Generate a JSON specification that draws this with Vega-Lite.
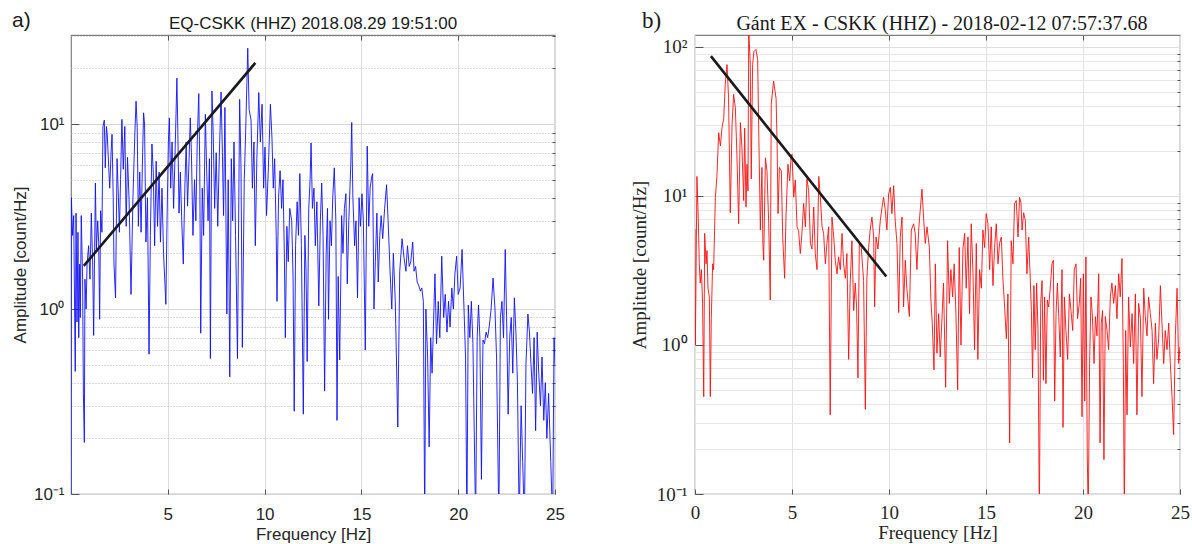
{
"$schema": "https://vega.github.io/schema/vega-lite/v6.json",
"padding": {"left": 10, "top": 9, "right": 0, "bottom": 0},
"bounds": "flush",
"spacing": 140,
"config": {"view": {"stroke": "#808080", "strokeWidth": 1.2}, "axis": {"labelFlush": false, "domain": false}},
"datasets": {
"eq": [{"f":0.0,"a":0.07},{"f":0.02,"a":4.0},{"f":0.08,"a":2.5},{"f":0.14,"a":3.2},{"f":0.19,"a":0.9},{"f":0.22,"a":0.46},{"f":0.26,"a":3.3},{"f":0.31,"a":0.85},{"f":0.36,"a":2.6},{"f":0.4,"a":0.7},{"f":0.45,"a":1.75},{"f":0.48,"a":0.9},{"f":0.53,"a":3.2},{"f":0.6,"a":1.45},{"f":0.64,"a":0.35},{"f":0.69,"a":0.19},{"f":0.72,"a":1.45},{"f":0.78,"a":1.0},{"f":0.83,"a":1.75},{"f":0.91,"a":2.2},{"f":0.98,"a":1.45},{"f":1.05,"a":3.3},{"f":1.12,"a":1.75},{"f":1.17,"a":0.72},{"f":1.26,"a":4.8},{"f":1.31,"a":2.1},{"f":1.38,"a":3.0},{"f":1.43,"a":2.3},{"f":1.48,"a":0.88},{"f":1.53,"a":3.4},{"f":1.6,"a":2.6},{"f":1.65,"a":9.7},{"f":1.72,"a":10.5},{"f":1.77,"a":5.8},{"f":1.83,"a":9.7},{"f":1.88,"a":8.5},{"f":1.95,"a":5.8},{"f":2.0,"a":4.5},{"f":2.07,"a":7.0},{"f":2.12,"a":8.8},{"f":2.18,"a":4.0},{"f":2.22,"a":1.75},{"f":2.3,"a":1.15},{"f":2.38,"a":6.5},{"f":2.45,"a":4.0},{"f":2.5,"a":2.6},{"f":2.56,"a":5.0},{"f":2.63,"a":10.6},{"f":2.7,"a":5.7},{"f":2.78,"a":9.7},{"f":2.85,"a":2.8},{"f":2.92,"a":6.6},{"f":3.0,"a":3.9},{"f":3.1,"a":1.2},{"f":3.2,"a":4.0},{"f":3.3,"a":9.0},{"f":3.36,"a":13.3},{"f":3.42,"a":9.6},{"f":3.48,"a":2.8},{"f":3.55,"a":5.5},{"f":3.62,"a":2.6},{"f":3.7,"a":7.0},{"f":3.75,"a":11.5},{"f":3.8,"a":10.0},{"f":3.87,"a":2.3},{"f":3.95,"a":4.0},{"f":4.03,"a":0.57},{"f":4.1,"a":2.5},{"f":4.18,"a":7.8},{"f":4.25,"a":5.5},{"f":4.32,"a":2.2},{"f":4.4,"a":6.3},{"f":4.47,"a":2.8},{"f":4.55,"a":5.5},{"f":4.62,"a":2.3},{"f":4.7,"a":4.5},{"f":4.78,"a":2.0},{"f":4.9,"a":1.06},{"f":4.96,"a":3.0},{"f":5.03,"a":8.0},{"f":5.08,"a":10.8},{"f":5.15,"a":4.5},{"f":5.22,"a":8.0},{"f":5.3,"a":3.5},{"f":5.36,"a":6.0},{"f":5.47,"a":17.7},{"f":5.52,"a":9.0},{"f":5.58,"a":3.3},{"f":5.65,"a":5.5},{"f":5.72,"a":3.0},{"f":5.8,"a":1.75},{"f":5.88,"a":4.5},{"f":5.95,"a":8.0},{"f":6.02,"a":3.6},{"f":6.1,"a":6.5},{"f":6.16,"a":10.8},{"f":6.22,"a":7.0},{"f":6.3,"a":2.5},{"f":6.38,"a":5.0},{"f":6.45,"a":3.0},{"f":6.52,"a":8.0},{"f":6.6,"a":14.6},{"f":6.65,"a":6.0},{"f":6.7,"a":0.74},{"f":6.78,"a":4.5},{"f":6.85,"a":2.5},{"f":6.94,"a":11.3},{"f":7.0,"a":6.0},{"f":7.08,"a":3.0},{"f":7.15,"a":6.5},{"f":7.2,"a":0.54},{"f":7.28,"a":15.1},{"f":7.35,"a":8.5},{"f":7.42,"a":3.5},{"f":7.5,"a":7.0},{"f":7.58,"a":2.8},{"f":7.65,"a":6.0},{"f":7.75,"a":14.9},{"f":7.82,"a":7.0},{"f":7.88,"a":3.2},{"f":7.95,"a":12.3},{"f":8.05,"a":0.94},{"f":8.12,"a":5.0},{"f":8.2,"a":0.43},{"f":8.28,"a":6.5},{"f":8.35,"a":3.0},{"f":8.42,"a":8.0},{"f":8.5,"a":2.5},{"f":8.6,"a":0.54},{"f":8.71,"a":13.6},{"f":8.78,"a":6.0},{"f":8.85,"a":0.62},{"f":8.95,"a":5.0},{"f":9.02,"a":9.0},{"f":9.13,"a":25.7},{"f":9.2,"a":12.0},{"f":9.3,"a":10.5},{"f":9.37,"a":4.5},{"f":9.45,"a":8.0},{"f":9.52,"a":2.2},{"f":9.6,"a":6.5},{"f":9.7,"a":14.8},{"f":9.78,"a":8.0},{"f":9.87,"a":12.8},{"f":9.95,"a":4.5},{"f":10.02,"a":7.5},{"f":10.1,"a":3.2},{"f":10.2,"a":6.0},{"f":10.3,"a":12.8},{"f":10.38,"a":8.4},{"f":10.45,"a":4.5},{"f":10.52,"a":6.5},{"f":10.6,"a":2.5},{"f":10.64,"a":1.1},{"f":10.72,"a":4.0},{"f":10.8,"a":5.6},{"f":10.88,"a":3.5},{"f":10.95,"a":5.0},{"f":11.02,"a":2.0},{"f":11.07,"a":0.7},{"f":11.15,"a":2.8},{"f":11.22,"a":1.8},{"f":11.3,"a":3.5},{"f":11.4,"a":3.0},{"f":11.47,"a":1.5},{"f":11.53,"a":0.28},{"f":11.6,"a":2.2},{"f":11.68,"a":3.8},{"f":11.75,"a":2.5},{"f":11.82,"a":5.4},{"f":11.9,"a":2.2},{"f":12.0,"a":0.27},{"f":12.08,"a":2.5},{"f":12.14,"a":1.6},{"f":12.2,"a":0.52},{"f":12.28,"a":3.5},{"f":12.35,"a":5.0},{"f":12.4,"a":7.9},{"f":12.47,"a":3.5},{"f":12.55,"a":4.5},{"f":12.62,"a":2.2},{"f":12.7,"a":3.8},{"f":12.8,"a":1.04},{"f":12.88,"a":3.0},{"f":12.95,"a":4.8},{"f":13.02,"a":2.5},{"f":13.1,"a":0.36},{"f":13.18,"a":2.0},{"f":13.25,"a":3.5},{"f":13.3,"a":0.88},{"f":13.38,"a":3.0},{"f":13.45,"a":2.2},{"f":13.52,"a":4.0},{"f":13.6,"a":5.8},{"f":13.68,"a":3.0},{"f":13.74,"a":0.25},{"f":13.8,"a":1.5},{"f":13.88,"a":0.53},{"f":13.98,"a":3.2},{"f":14.05,"a":2.0},{"f":14.12,"a":3.5},{"f":14.2,"a":4.2},{"f":14.27,"a":1.37},{"f":14.35,"a":3.0},{"f":14.45,"a":6.0},{"f":14.5,"a":10.2},{"f":14.56,"a":4.0},{"f":14.65,"a":2.2},{"f":14.72,"a":3.0},{"f":14.8,"a":1.15},{"f":14.88,"a":4.0},{"f":14.95,"a":2.8},{"f":15.03,"a":4.2},{"f":15.1,"a":3.0},{"f":15.2,"a":0.6},{"f":15.3,"a":7.6},{"f":15.38,"a":2.8},{"f":15.45,"a":4.5},{"f":15.52,"a":5.1},{"f":15.58,"a":5.4},{"f":15.65,"a":1.0},{"f":15.72,"a":1.8},{"f":15.8,"a":3.3},{"f":15.87,"a":1.4},{"f":15.95,"a":2.5},{"f":16.02,"a":3.2},{"f":16.1,"a":2.4},{"f":16.2,"a":3.5},{"f":16.3,"a":4.7},{"f":16.38,"a":3.0},{"f":16.48,"a":1.6},{"f":16.57,"a":1.0},{"f":16.65,"a":2.0},{"f":16.75,"a":1.1},{"f":16.88,"a":0.23},{"f":16.98,"a":1.6},{"f":17.1,"a":2.4},{"f":17.2,"a":1.9},{"f":17.3,"a":1.6},{"f":17.38,"a":2.2},{"f":17.47,"a":1.7},{"f":17.55,"a":1.8},{"f":17.65,"a":2.3},{"f":17.72,"a":1.6},{"f":17.8,"a":1.7},{"f":17.88,"a":1.4},{"f":17.95,"a":1.35},{"f":18.05,"a":1.25},{"f":18.12,"a":1.3},{"f":18.2,"a":1.1},{"f":18.27,"a":0.07},{"f":18.33,"a":1.0},{"f":18.42,"a":0.55},{"f":18.5,"a":0.18},{"f":18.58,"a":0.7},{"f":18.65,"a":0.45},{"f":18.8,"a":1.55},{"f":18.88,"a":0.65},{"f":18.97,"a":1.1},{"f":19.05,"a":0.7},{"f":19.15,"a":1.93},{"f":19.25,"a":0.9},{"f":19.33,"a":1.2},{"f":19.42,"a":0.75},{"f":19.5,"a":1.1},{"f":19.58,"a":0.8},{"f":19.67,"a":1.3},{"f":19.75,"a":1.0},{"f":19.83,"a":1.55},{"f":19.92,"a":1.93},{"f":20.0,"a":1.2},{"f":20.1,"a":1.3},{"f":20.2,"a":2.1},{"f":20.3,"a":1.0},{"f":20.38,"a":0.55},{"f":20.45,"a":0.07},{"f":20.52,"a":1.05},{"f":20.6,"a":0.7},{"f":20.68,"a":1.1},{"f":20.76,"a":0.65},{"f":20.9,"a":0.07},{"f":20.98,"a":0.7},{"f":21.05,"a":1.05},{"f":21.12,"a":0.7},{"f":21.2,"a":0.12},{"f":21.28,"a":0.68},{"f":21.36,"a":0.65},{"f":21.44,"a":0.75},{"f":21.52,"a":0.7},{"f":21.6,"a":0.8},{"f":21.7,"a":1.0},{"f":21.8,"a":1.47},{"f":21.9,"a":1.0},{"f":21.98,"a":0.55},{"f":22.1,"a":0.07},{"f":22.18,"a":0.9},{"f":22.26,"a":1.1},{"f":22.34,"a":0.7},{"f":22.43,"a":2.1},{"f":22.5,"a":0.9},{"f":22.58,"a":0.27},{"f":22.66,"a":0.7},{"f":22.74,"a":0.9},{"f":22.82,"a":0.45},{"f":22.9,"a":1.15},{"f":22.98,"a":0.75},{"f":23.06,"a":0.4},{"f":23.15,"a":0.07},{"f":23.25,"a":0.3},{"f":23.33,"a":0.15},{"f":23.42,"a":0.07},{"f":23.5,"a":0.5},{"f":23.6,"a":0.94},{"f":23.68,"a":0.75},{"f":23.76,"a":0.5},{"f":23.84,"a":0.35},{"f":23.92,"a":0.7},{"f":24.0,"a":0.22},{"f":24.08,"a":0.75},{"f":24.16,"a":0.45},{"f":24.25,"a":0.3},{"f":24.33,"a":0.55},{"f":24.42,"a":0.25},{"f":24.5,"a":0.4},{"f":24.58,"a":0.2},{"f":24.67,"a":0.35},{"f":24.78,"a":0.15},{"f":24.88,"a":0.07},{"f":24.95,"a":0.7},{"f":25.0,"a":0.5}],
"ex": [{"f":0.0,"a":6.0},{"f":0.02,"a":1.0},{"f":0.1,"a":13.5},{"f":0.15,"a":8.4},{"f":0.19,"a":5.4},{"f":0.22,"a":3.5},{"f":0.27,"a":2.6},{"f":0.33,"a":3.2},{"f":0.39,"a":1.9},{"f":0.45,"a":0.45},{"f":0.5,"a":5.6},{"f":0.57,"a":3.5},{"f":0.62,"a":4.3},{"f":0.67,"a":2.4},{"f":0.74,"a":2.1},{"f":0.79,"a":0.45},{"f":0.84,"a":1.5},{"f":0.91,"a":3.5},{"f":0.96,"a":3.2},{"f":1.05,"a":9.8},{"f":1.13,"a":13.5},{"f":1.22,"a":26.5},{"f":1.31,"a":21.6},{"f":1.39,"a":28.5},{"f":1.48,"a":33},{"f":1.56,"a":56},{"f":1.65,"a":76},{"f":1.73,"a":45.6},{"f":1.82,"a":7.7},{"f":1.91,"a":30},{"f":1.99,"a":48},{"f":2.08,"a":39},{"f":2.16,"a":19},{"f":2.25,"a":6.5},{"f":2.34,"a":31},{"f":2.42,"a":21},{"f":2.51,"a":9.3},{"f":2.56,"a":28.5},{"f":2.63,"a":8.4},{"f":2.68,"a":16.3},{"f":2.73,"a":10.8},{"f":2.77,"a":130},{"f":2.85,"a":76},{"f":2.9,"a":13},{"f":2.97,"a":76},{"f":3.04,"a":93},{"f":3.14,"a":96},{"f":3.23,"a":82},{"f":3.28,"a":30},{"f":3.37,"a":5.9},{"f":3.45,"a":15.5},{"f":3.5,"a":4.8},{"f":3.54,"a":3.7},{"f":3.63,"a":18},{"f":3.71,"a":14.7},{"f":3.8,"a":6.5},{"f":3.88,"a":2.0},{"f":3.93,"a":41},{"f":4.05,"a":59},{"f":4.18,"a":45},{"f":4.23,"a":23.3},{"f":4.28,"a":7.6},{"f":4.35,"a":15.5},{"f":4.45,"a":14.7},{"f":4.52,"a":5.3},{"f":4.62,"a":2.8},{"f":4.69,"a":7.2},{"f":4.79,"a":16.3},{"f":4.88,"a":12.6},{"f":4.95,"a":18},{"f":5.0,"a":19},{"f":5.09,"a":9.8},{"f":5.17,"a":12.8},{"f":5.26,"a":6.2},{"f":5.34,"a":5.8},{"f":5.43,"a":4.1},{"f":5.51,"a":5.6},{"f":5.6,"a":8.9},{"f":5.69,"a":6.2},{"f":5.77,"a":13},{"f":5.86,"a":10.8},{"f":5.95,"a":4.8},{"f":6.03,"a":4.4},{"f":6.12,"a":8.4},{"f":6.2,"a":4.1},{"f":6.29,"a":3.2},{"f":6.38,"a":13.5},{"f":6.46,"a":9.8},{"f":6.55,"a":6.2},{"f":6.63,"a":5.6},{"f":6.72,"a":3.5},{"f":6.8,"a":4.8},{"f":6.89,"a":6.2},{"f":6.97,"a":0.34},{"f":7.06,"a":7.2},{"f":7.15,"a":5.3},{"f":7.23,"a":3.7},{"f":7.32,"a":3.0},{"f":7.4,"a":3.9},{"f":7.49,"a":3.2},{"f":7.58,"a":5.6},{"f":7.66,"a":3.5},{"f":7.75,"a":2.8},{"f":7.83,"a":4.1},{"f":7.92,"a":0.8},{"f":8.0,"a":2.6},{"f":8.09,"a":5.0},{"f":8.18,"a":1.7},{"f":8.26,"a":2.6},{"f":8.33,"a":1.8},{"f":8.4,"a":0.6},{"f":8.47,"a":4.8},{"f":8.57,"a":4.5},{"f":8.69,"a":2.7},{"f":8.78,"a":0.37},{"f":8.86,"a":2.8},{"f":8.95,"a":4.5},{"f":9.03,"a":5.9},{"f":9.12,"a":7.2},{"f":9.21,"a":5.3},{"f":9.26,"a":1.8},{"f":9.33,"a":5.3},{"f":9.43,"a":4.4},{"f":9.55,"a":6.8},{"f":9.64,"a":8.4},{"f":9.72,"a":9.8},{"f":9.81,"a":8.0},{"f":9.89,"a":5.9},{"f":9.98,"a":10.3},{"f":10.07,"a":11.4},{"f":10.15,"a":7.6},{"f":10.24,"a":11.7},{"f":10.32,"a":6.8},{"f":10.41,"a":4.8},{"f":10.5,"a":1.65},{"f":10.58,"a":5.3},{"f":10.67,"a":7.2},{"f":10.75,"a":1.8},{"f":10.84,"a":3.7},{"f":10.92,"a":2.4},{"f":11.05,"a":1.55},{"f":11.15,"a":5.9},{"f":11.27,"a":6.5},{"f":11.35,"a":5.6},{"f":11.44,"a":3.2},{"f":11.53,"a":5.9},{"f":11.61,"a":8.0},{"f":11.7,"a":11.1},{"f":11.78,"a":7.2},{"f":11.87,"a":4.8},{"f":11.96,"a":6.2},{"f":12.08,"a":4.5},{"f":12.16,"a":2.0},{"f":12.23,"a":1.4},{"f":12.32,"a":0.68},{"f":12.39,"a":3.5},{"f":12.47,"a":0.88},{"f":12.56,"a":1.62},{"f":12.64,"a":0.83},{"f":12.73,"a":1.5},{"f":12.81,"a":2.6},{"f":12.92,"a":0.52},{"f":13.02,"a":5.0},{"f":13.11,"a":1.9},{"f":13.19,"a":3.2},{"f":13.28,"a":2.1},{"f":13.36,"a":3.5},{"f":13.45,"a":1.62},{"f":13.54,"a":0.5},{"f":13.62,"a":4.5},{"f":13.71,"a":1.0},{"f":13.81,"a":4.4},{"f":13.9,"a":5.6},{"f":13.98,"a":2.4},{"f":14.07,"a":5.3},{"f":14.15,"a":1.62},{"f":14.24,"a":6.5},{"f":14.33,"a":3.0},{"f":14.41,"a":0.93},{"f":14.5,"a":4.8},{"f":14.58,"a":0.8},{"f":14.67,"a":3.2},{"f":14.76,"a":2.4},{"f":14.84,"a":5.9},{"f":14.93,"a":4.5},{"f":15.01,"a":7.6},{"f":15.1,"a":6.5},{"f":15.19,"a":3.2},{"f":15.27,"a":6.2},{"f":15.36,"a":2.5},{"f":15.44,"a":4.5},{"f":15.53,"a":6.5},{"f":15.62,"a":3.5},{"f":15.7,"a":4.8},{"f":15.79,"a":5.3},{"f":15.87,"a":2.8},{"f":15.96,"a":1.8},{"f":16.05,"a":1.1},{"f":16.13,"a":2.2},{"f":16.22,"a":0.22},{"f":16.3,"a":5.0},{"f":16.39,"a":3.5},{"f":16.47,"a":8.9},{"f":16.56,"a":9.3},{"f":16.65,"a":5.3},{"f":16.73,"a":9.8},{"f":16.8,"a":9.0},{"f":16.86,"a":5.9},{"f":16.94,"a":7.7},{"f":17.03,"a":6.8},{"f":17.11,"a":3.0},{"f":17.2,"a":5.3},{"f":17.28,"a":2.8},{"f":17.34,"a":1.7},{"f":17.4,"a":0.6},{"f":17.47,"a":2.5},{"f":17.54,"a":0.93},{"f":17.61,"a":2.6},{"f":17.68,"a":1.25},{"f":17.75,"a":0.07},{"f":17.82,"a":1.9},{"f":17.89,"a":2.7},{"f":17.96,"a":0.58},{"f":18.02,"a":2.1},{"f":18.09,"a":0.55},{"f":18.16,"a":2.0},{"f":18.23,"a":1.8},{"f":18.32,"a":2.5},{"f":18.4,"a":3.5},{"f":18.47,"a":3.7},{"f":18.54,"a":0.42},{"f":18.61,"a":1.62},{"f":18.68,"a":2.6},{"f":18.75,"a":1.55},{"f":18.83,"a":0.83},{"f":18.92,"a":3.2},{"f":18.97,"a":0.28},{"f":19.04,"a":2.1},{"f":19.12,"a":1.25},{"f":19.21,"a":0.8},{"f":19.3,"a":2.2},{"f":19.38,"a":1.7},{"f":19.47,"a":1.25},{"f":19.55,"a":3.2},{"f":19.64,"a":3.5},{"f":19.72,"a":1.5},{"f":19.81,"a":1.9},{"f":19.88,"a":2.8},{"f":19.95,"a":0.33},{"f":20.02,"a":3.0},{"f":20.09,"a":0.42},{"f":20.15,"a":3.9},{"f":20.22,"a":0.18},{"f":20.27,"a":0.07},{"f":20.34,"a":0.75},{"f":20.41,"a":2.1},{"f":20.48,"a":1.62},{"f":20.57,"a":0.75},{"f":20.64,"a":1.55},{"f":20.72,"a":1.15},{"f":20.81,"a":3.0},{"f":20.88,"a":0.22},{"f":20.94,"a":1.4},{"f":21.01,"a":1.7},{"f":21.08,"a":0.17},{"f":21.15,"a":1.55},{"f":21.24,"a":1.25},{"f":21.32,"a":0.93},{"f":21.41,"a":2.1},{"f":21.49,"a":2.6},{"f":21.58,"a":1.9},{"f":21.67,"a":2.5},{"f":21.75,"a":1.5},{"f":21.84,"a":3.0},{"f":21.92,"a":2.1},{"f":22.01,"a":3.8},{"f":22.08,"a":0.75},{"f":22.13,"a":0.07},{"f":22.2,"a":1.25},{"f":22.27,"a":0.34},{"f":22.35,"a":2.1},{"f":22.44,"a":0.97},{"f":22.53,"a":1.62},{"f":22.61,"a":0.75},{"f":22.7,"a":2.2},{"f":22.78,"a":0.34},{"f":22.87,"a":1.9},{"f":22.96,"a":1.5},{"f":23.04,"a":0.45},{"f":23.13,"a":2.4},{"f":23.21,"a":1.55},{"f":23.3,"a":1.15},{"f":23.38,"a":2.1},{"f":23.47,"a":1.62},{"f":23.56,"a":1.25},{"f":23.64,"a":0.55},{"f":23.73,"a":1.4},{"f":23.81,"a":0.8},{"f":23.9,"a":1.1},{"f":23.99,"a":2.5},{"f":24.07,"a":1.4},{"f":24.16,"a":0.75},{"f":24.24,"a":1.25},{"f":24.33,"a":0.93},{"f":24.42,"a":1.4},{"f":24.5,"a":0.75},{"f":24.59,"a":0.45},{"f":24.67,"a":0.25},{"f":24.76,"a":1.15},{"f":24.85,"a":2.4},{"f":24.93,"a":0.75},{"f":25.0,"a":0.97}],
"fitA": [{"f":0.66,"a":1.71},{"f":9.52,"a":21.4}],
"fitB": [{"f":0.82,"a":86.6},{"f":9.86,"a":2.88}]
},
"hconcat": [
{
"width": 484, "height": 459,
"layer": [
{"data": {"name": "eq"}, "mark": {"type": "line", "color": "#1010ff", "strokeWidth": 0.9, "clip": true},
"encoding": {
"x": {"field": "f", "type": "quantitative", "scale": {"domain": [0, 25], "nice": false, "zero": false},
"axis": {"orient": "bottom", "values": [5, 10, 15, 20, 25], "grid": true, "gridColor": "#dcdcdc", "ticks": true, "tickSize": -5, "tickColor": "#555555", "labelFont": "Liberation Sans", "labelFontSize": 17, "labelColor": "#262626", "labelPadding": 17, "title": "Frequency [Hz]", "titleFont": "Liberation Sans", "titleFontSize": 17, "titleFontWeight": "normal", "titleColor": "#262626", "titlePadding": 4}},
"y": {"field": "a", "type": "quantitative", "scale": {"type": "log", "domain": [0.1, 30.3], "nice": false},
"axis": {"orient": "left", "values": [0.1, 1, 10], "grid": true, "gridColor": "#d6d6d6", "ticks": true, "tickSize": -8, "tickColor": "#555555", "labelExpr": "datum.value < 0.5 ? '10⁻¹' : datum.value < 5 ? '10⁰' : '10¹'", "labelFont": "Liberation Sans", "labelFontSize": 17, "labelColor": "#262626", "labelPadding": 15, "title": "Amplitude [count/Hz]", "titleFont": "Liberation Sans", "titleFontSize": 17, "titleFontWeight": "normal", "titleColor": "#262626", "titlePadding": 4}}
}},
{"data": {"name": "fitA"}, "mark": {"type": "line", "color": "#1a1a1a", "strokeWidth": 2.6, "clip": true},
"encoding": {
"x": {"field": "f", "type": "quantitative", "scale": {"domain": [0, 25], "nice": false, "zero": false},
"axis": {"orient": "top", "values": [5, 10, 15, 20], "grid": false, "labels": false, "ticks": true, "tickSize": -5, "tickColor": "#555555", "title": null}},
"y": {"field": "a", "type": "quantitative", "scale": {"type": "log", "domain": [0.1, 30.3], "nice": false},
"axis": {"orient": "right", "values": [0.2, 0.3, 0.4, 0.5, 0.6, 0.7, 0.8, 0.9, 2, 3, 4, 5, 6, 7, 8, 9, 20, 30], "grid": true, "gridColor": "#b4b4b4", "gridDash": [1, 2], "labels": false, "ticks": true, "tickSize": -3, "tickColor": "#555555", "title": null}}
}},
{"data": {"values": [{"t": "a)"}]}, "mark": {"type": "text", "font": "Liberation Sans", "fontSize": 21, "align": "left", "baseline": "alphabetic", "color": "#1a1a1a"},
"encoding": {
"text": {"field": "t"},
"x": {"datum": -3.05, "type": "quantitative", "scale": {"domain": [0, 25], "nice": false, "zero": false}, "axis": null},
"y": {"datum": 33.4, "type": "quantitative", "scale": {"type": "log", "domain": [0.1, 30.3], "nice": false}, "axis": null}
}},
{"data": {"values": [{"t": "EQ-CSKK (HHZ) 2018.08.29 19:51:00"}]}, "mark": {"type": "text", "font": "Liberation Sans", "fontSize": 17, "align": "center", "baseline": "alphabetic", "color": "#1a1a1a"},
"encoding": {
"text": {"field": "t"},
"x": {"datum": 12.5, "type": "quantitative", "scale": {"domain": [0, 25], "nice": false, "zero": false}, "axis": null},
"y": {"datum": 32.6, "type": "quantitative", "scale": {"type": "log", "domain": [0.1, 30.3], "nice": false}, "axis": null}
}}
],
"resolve": {"axis": {"x": "independent", "y": "independent"}}
},
{
"width": 485, "height": 459,
"layer": [
{"data": {"name": "ex"}, "mark": {"type": "line", "color": "#ff1010", "strokeWidth": 0.9, "clip": true},
"encoding": {
"x": {"field": "f", "type": "quantitative", "scale": {"domain": [0, 25], "nice": false, "zero": false},
"axis": {"orient": "bottom", "values": [0, 5, 10, 15, 20, 25], "grid": true, "gridColor": "#e2e2e2", "ticks": true, "tickSize": -5, "tickColor": "#555555", "labelFont": "Liberation Serif", "labelFontSize": 19, "labelColor": "#262626", "labelPadding": 14, "title": "Frequency [Hz]", "titleFont": "Liberation Serif", "titleFontSize": 19, "titleFontWeight": "normal", "titleColor": "#262626", "titlePadding": 1}},
"y": {"field": "a", "type": "quantitative", "scale": {"type": "log", "domain": [0.1, 120], "nice": false},
"axis": {"orient": "left", "values": [0.1, 1, 10, 100], "grid": true, "gridColor": "#dedede", "ticks": true, "tickSize": -8, "tickColor": "#555555", "labelExpr": "datum.value < 0.5 ? '10⁻¹' : datum.value < 5 ? '10⁰' : datum.value < 50 ? '10¹' : '10²'", "labelFont": "Liberation Serif", "labelFontSize": 19, "labelColor": "#262626", "labelPadding": 16, "title": "Amplitude [count/Hz]", "titleFont": "Liberation Serif", "titleFontSize": 19, "titleFontWeight": "normal", "titleColor": "#262626", "titlePadding": 7}}
}},
{"data": {"name": "fitB"}, "mark": {"type": "line", "color": "#1a1a1a", "strokeWidth": 2.6, "clip": true},
"encoding": {
"x": {"field": "f", "type": "quantitative", "scale": {"domain": [0, 25], "nice": false, "zero": false},
"axis": {"orient": "top", "values": [5, 10, 15, 20], "grid": false, "labels": false, "ticks": true, "tickSize": -5, "tickColor": "#555555", "title": null}},
"y": {"field": "a", "type": "quantitative", "scale": {"type": "log", "domain": [0.1, 120], "nice": false},
"axis": {"orient": "right", "values": [0.2, 0.3, 0.4, 0.5, 0.6, 0.7, 0.8, 0.9, 2, 3, 4, 5, 6, 7, 8, 9, 20, 30, 40, 50, 60, 70, 80, 90], "grid": true, "gridColor": "#e6e6e6", "labels": false, "ticks": true, "tickSize": -3, "tickColor": "#555555", "title": null}}
}},
{"data": {"values": [{"t": "b)"}]}, "mark": {"type": "text", "font": "Liberation Serif", "fontSize": 23, "align": "left", "baseline": "alphabetic", "color": "#1a1a1a"},
"encoding": {
"text": {"field": "t"},
"x": {"datum": -2.73, "type": "quantitative", "scale": {"domain": [0, 25], "nice": false, "zero": false}, "axis": null},
"y": {"datum": 133, "type": "quantitative", "scale": {"type": "log", "domain": [0.1, 120], "nice": false}, "axis": null}
}},
{"data": {"values": [{"t": "Gánt EX - CSKK (HHZ) - 2018-02-12 07:57:37.68"}]}, "mark": {"type": "text", "font": "Liberation Serif", "fontSize": 20, "align": "center", "baseline": "alphabetic", "color": "#1a1a1a"},
"encoding": {
"text": {"field": "t"},
"x": {"datum": 12.73, "type": "quantitative", "scale": {"domain": [0, 25], "nice": false, "zero": false}, "axis": null},
"y": {"datum": 129, "type": "quantitative", "scale": {"type": "log", "domain": [0.1, 120], "nice": false}, "axis": null}
}}
],
"resolve": {"axis": {"x": "independent", "y": "independent"}}
}
]
}
